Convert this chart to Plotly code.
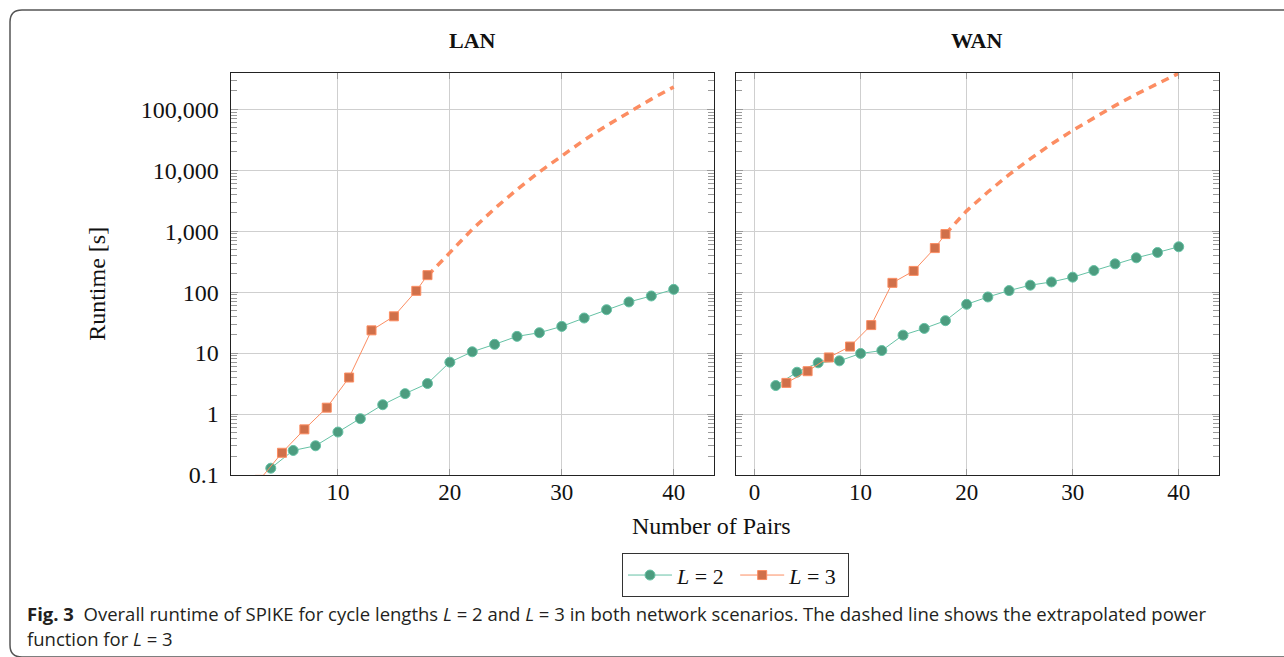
import plotly.graph_objects as go

# ---------------- data ----------------
lan_l2_x = [4, 6, 8, 10, 12, 14, 16, 18, 20, 22, 24, 26, 28, 30, 32, 34, 36, 38, 40]
lan_l2_y = [0.129, 0.252, 0.301, 0.506, 0.838, 1.42, 2.16, 3.16, 7.09, 10.5, 13.9, 18.8,
            21.6, 27.4, 37.6, 51.5, 69.0, 86.5, 111.0]
lan_l3_x = [3, 5, 7, 9, 11, 13, 15, 17, 18]
lan_l3_y = [0.083, 0.231, 0.56, 1.27, 3.97, 23.6, 40.1, 105.0, 190.0]
lan_ext_x = [18, 20, 22, 24, 26, 28, 30, 32, 34, 36, 38, 40]
lan_ext_y = [185, 455, 1074, 2350, 4830, 9400, 17500, 31300, 54000, 90400, 147000, 233000]

wan_l2_x = [2, 4, 6, 8, 10, 12, 14, 16, 18, 20, 22, 24, 26, 28, 30, 32, 34, 36, 38, 40]
wan_l2_y = [2.93, 4.85, 6.92, 7.46, 9.85, 11.0, 19.7, 25.4, 34.0, 63.1, 83.3, 106, 130,
            147, 176, 226, 291, 366, 448, 555]
wan_l3_x = [3, 5, 7, 9, 11, 13, 15, 17, 18]
wan_l3_y = [3.24, 5.04, 8.47, 12.8, 28.8, 142, 223, 528, 897]
wan_ext_x = [18, 20, 22, 24, 26, 28, 30, 32, 34, 36, 38, 40]
wan_ext_y = [900, 2160, 4400, 8470, 15400, 26900, 45100, 73300, 115000, 177000, 265000, 390000]

y_tickvals = [0.1, 1, 10, 100, 1000, 10000, 100000]
y_ticktext = ["0.1", "1", "10", "100", "1,000", "10,000", "100,000"]
lan_xticks = [10, 20, 30, 40]
wan_xticks = [0, 10, 20, 30, 40]

# ---------------- style ----------------
REF_W, REF_H = 1284, 657
W, H = 1284, 672
SERIF = "Liberation Serif"
GREEN_LINE = "#66c2a5"
GREEN_FILL = "#4c9c7f"
ORANGE_LINE = "#fc8d62"
ORANGE_FILL = "#d0704a"
GRID = "#cfcfcf"
TICK = "#9a9a9a"


def px_x(p):
    return p / REF_W


def px_y(p):
    return 1 - p / REF_H


fig = go.Figure()

for name, xa, ya, l2x, l2y, l3x, l3y, ex, ey, show in [
    ("LAN", "x", "y", lan_l2_x, lan_l2_y, lan_l3_x, lan_l3_y, lan_ext_x, lan_ext_y, True),
    ("WAN", "x2", "y2", wan_l2_x, wan_l2_y, wan_l3_x, wan_l3_y, wan_ext_x, wan_ext_y, False),
]:
    fig.add_trace(go.Scatter(x=ex, y=ey, xaxis=xa, yaxis=ya, mode="lines",
                             line=dict(color=ORANGE_LINE, width=3.5, dash="8px,6px"),
                             showlegend=False, hoverinfo="skip"))
    fig.add_trace(go.Scatter(x=l2x, y=l2y, xaxis=xa, yaxis=ya, mode="lines+markers",
                             name="<i>L</i> = 2&nbsp;", showlegend=show, legendrank=1,
                             line=dict(color=GREEN_LINE, width=1),
                             marker=dict(symbol="circle", size=10, color=GREEN_FILL,
                                         line=dict(color=GREEN_LINE, width=1))))
    fig.add_trace(go.Scatter(x=l3x, y=l3y, xaxis=xa, yaxis=ya, mode="lines+markers",
                             name="<i>L</i> = 3&nbsp;", showlegend=show, legendrank=2,
                             line=dict(color=ORANGE_LINE, width=1),
                             marker=dict(symbol="square", size=9, color=ORANGE_FILL,
                                         line=dict(color=ORANGE_LINE, width=1))))

xcommon = dict(showgrid=True, gridcolor=GRID, gridwidth=1, zeroline=False,
               showline=True, linecolor="#222", linewidth=1, mirror="allticks",
               ticks="inside", ticklen=6, tickcolor=TICK, tickwidth=1,
               ticklabelstandoff=-4,
               tickfont=dict(family=SERIF, size=23, color="#111"))
ycommon = dict(type="log", range=[-1, 5.604], showgrid=True, gridcolor=GRID, gridwidth=1,
               zeroline=False, showline=True, linecolor="#222", linewidth=1,
               mirror="allticks", ticks="inside", ticklen=7, tickcolor=TICK, tickwidth=1,
               tickmode="array", tickvals=y_tickvals, ticktext=y_ticktext,
               ticklabelstandoff=6,
               tickfont=dict(family=SERIF, size=24, color="#111"),
               minor=dict(ticks="inside", ticklen=6, tickcolor=TICK, tickwidth=1,
                          dtick="D1", showgrid=False))

ydom = [px_y(473.5), px_y(72.3)]
fig.update_layout(
    width=W, height=H, margin=dict(l=0, r=0, t=0, b=0),
    paper_bgcolor="white", plot_bgcolor="white", autosize=False,
    xaxis=dict(xcommon, domain=[px_x(230.5), px_x(714)], range=[0.4, 43.6],
               tickmode="array", tickvals=lan_xticks, anchor="y"),
    yaxis=dict(ycommon, domain=ydom, anchor="x"),
    xaxis2=dict(xcommon, domain=[px_x(735.5), px_x(1219)], range=[-1.8, 43.8],
                tickmode="array", tickvals=wan_xticks, anchor="y2"),
    yaxis2=dict(ycommon, domain=ydom, anchor="x2", showticklabels=False),
    legend=dict(orientation="h", x=px_x(735.5), y=px_y(573.5), xanchor="center",
                yanchor="middle", bordercolor="#333", borderwidth=1, bgcolor="white",
                font=dict(family=SERIF, size=22, color="#111"),
                itemwidth=44, tracegroupgap=0),
    showlegend=True,
)

ann = [
    dict(text="<b>LAN</b>", x=px_x(472), y=px_y(40)),
    dict(text="<b>WAN</b>", x=px_x(977), y=px_y(40)),
]
for a in ann:
    fig.add_annotation(xref="paper", yref="paper", showarrow=False, xanchor="center",
                       yanchor="middle", font=dict(family=SERIF, size=22, color="#111"), **a)

fig.add_annotation(text="Runtime [s]", xref="paper", yref="paper", x=px_x(97), y=px_y(283),
                   textangle=-90, showarrow=False, xanchor="center", yanchor="middle",
                   font=dict(family=SERIF, size=24, color="#111"))
fig.add_annotation(text="Number of Pairs", xref="paper", yref="paper", x=px_x(711), y=px_y(524),
                   showarrow=False, xanchor="center", yanchor="middle",
                   font=dict(family=SERIF, size=24, color="#111"))

cap_font = dict(family="Open Sans", size=18.5, color="#231f20")
fig.add_annotation(
    text="<b>Fig. 3</b>  Overall runtime of SPIKE for cycle lengths <i>L</i> = 2 and <i>L</i> = 3 "
         "in both network scenarios. The dashed line shows the extrapolated power",
    xref="paper", yref="paper", x=px_x(25), y=px_y(612), showarrow=False,
    xanchor="left", yanchor="middle", font=cap_font)
fig.add_annotation(
    text="function for <i>L</i> = 3",
    xref="paper", yref="paper", x=px_x(25), y=px_y(637), showarrow=False,
    xanchor="left", yanchor="middle", font=cap_font)

# rounded frame around the figure
r = 12
path = (f"M {px_x(1290)},{px_y(10)} L {px_x(10 + r)},{px_y(10)} "
        f"Q {px_x(10)},{px_y(10)} {px_x(10)},{px_y(10 + r)} "
        f"L {px_x(10)},{px_y(655 - r)} Q {px_x(10)},{px_y(655)} {px_x(10 + r)},{px_y(655)} "
        f"L {px_x(1290)},{px_y(655)}")
fig.add_shape(type="path", path=path, xref="paper", yref="paper",
              line=dict(color="#555", width=1.5), layer="below")

fig.write_html("out.html", config={"displayModeBar": False},
               post_script="document.body.style.margin='0';document.body.style.overflow='hidden';")
